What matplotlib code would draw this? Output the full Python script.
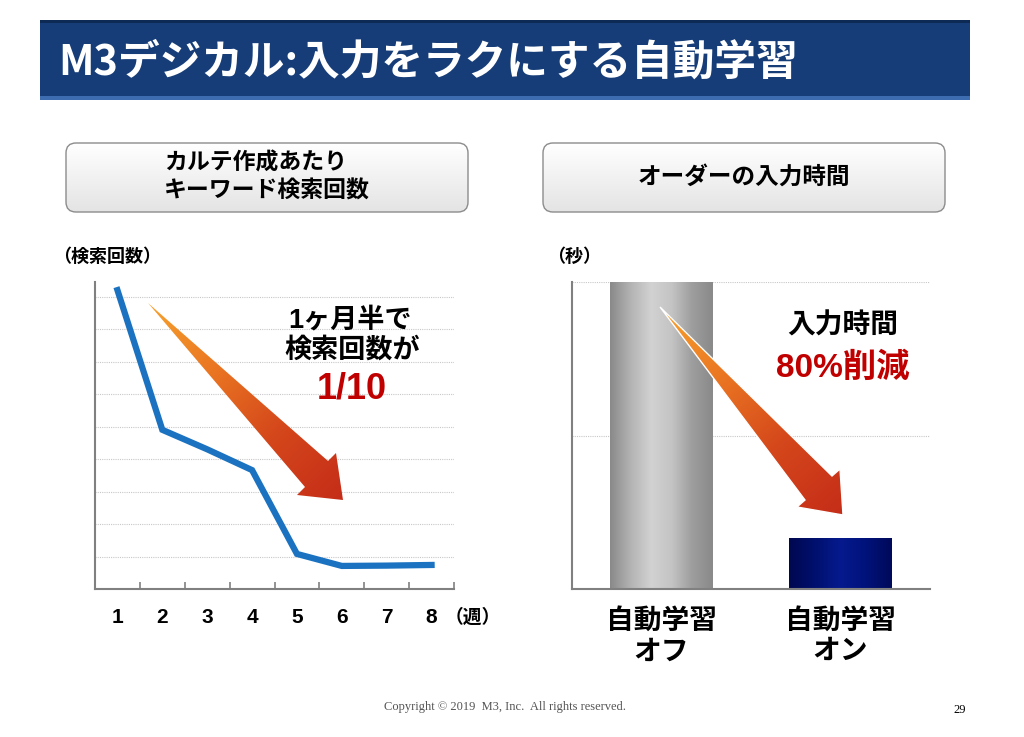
import numpy as np
import matplotlib
matplotlib.use("Agg")
import matplotlib.pyplot as plt
from matplotlib.colors import LinearSegmentedColormap
from matplotlib.patches import Polygon, FancyBboxPatch, Rectangle

plt.rcParams['font.family'] = ['Noto Sans CJK JP', 'DejaVu Sans']
ARIAL_JP = ['Liberation Sans', 'Noto Sans CJK JP']

# data
weeks = ['1', '2', '3', '4', '5', '6', '7', '8']
searches = [9.2, 4.9, 4.3, 3.66, 1.08, 0.71, 0.72, 0.74]
bar_labels = ['自動学習\nオフ', '自動学習\nオン']
bar_values = [2.0, 0.33]

W, H = 1024, 737
fig = plt.figure(figsize=(W / 100, H / 100), dpi=100)
fig.patch.set_facecolor('white')


def px_axes(x0, y0, x1, y1, z=1):
    return fig.add_axes([x0 / W, 1 - y1 / H, (x1 - x0) / W, (y1 - y0) / H], zorder=z)


def pixel_layer(z):
    a = fig.add_axes([0, 0, 1, 1], zorder=z)
    a.set_xlim(0, W)
    a.set_ylim(H, 0)
    a.axis('off')
    a.patch.set_alpha(0)
    return a


bg = pixel_layer(0)
top = pixel_layer(5)

# title bar
bg.add_patch(Rectangle((40, 20), 930, 80, color='#173d78', lw=0))
bg.add_patch(Rectangle((40, 20), 930, 3, color='#0d2a55', lw=0))
bg.add_patch(Rectangle((40, 96), 930, 4, color='#3d6db0', lw=0))
bg.text(58, 63, 'M3デジカル:入力をラクにする自動学習', color='white', fontsize=30,
        fontweight='bold', va='center', ha='left')

# header boxes with soft vertical gradient
grad_box = LinearSegmentedColormap.from_list('box', ['#ffffff', '#e4e4e4'])
for x0, txt, fs in [(66, 'カルテ作成あたり\nキーワード検索回数', 16.5), (543, 'オーダーの入力時間', 17)]:
    box = FancyBboxPatch((x0, 143), 402, 69, boxstyle='round,pad=0,rounding_size=10',
                         fc='none', ec='#8c8c8c', lw=1.0, zorder=3)
    bg.add_patch(box)
    img = bg.imshow(np.linspace(0, 1, 50).reshape(-1, 1), cmap=grad_box, aspect='auto',
                    extent=[x0, x0 + 402, 143, 212], origin='lower', zorder=2)
    img.set_clip_path(box)
    bg.text(x0 + 201, 177, txt, ha='center', va='center', fontsize=fs,
            fontweight='bold', linespacing=1.3, multialignment='left', zorder=4)
bg.set_xlim(0, W)
bg.set_ylim(H, 0)

# left chart: keyword searches per week
ax1 = px_axes(95, 282, 454, 589)
ax1.patch.set_alpha(0)
x = np.arange(1, len(weeks) + 1)
ax1.plot(x, searches, color='#1b72c0', lw=4.5, solid_joinstyle='miter', zorder=3)
ax1.set_xlim(0.5, 8.5)
ax1.set_ylim(0, 9.45)
for g in range(1, 10):
    ax1.axhline(g, color='#c8c8c8', lw=0.8, ls=(0, (1, 1)), zorder=1)
ax1.set_xticks(np.arange(1.5, 9.0, 1.0))
ax1.set_xticklabels([])
ax1.tick_params(axis='x', direction='in', length=5, width=1.2, color='#808080')
ax1.set_yticks([])
for s in ['top', 'right']:
    ax1.spines[s].set_visible(False)
for s in ['left', 'bottom']:
    ax1.spines[s].set_color('#808080')
    ax1.spines[s].set_linewidth(1.5)
for i, w in enumerate(weeks):
    ax1.text(x[i], -0.88, w, ha='center', va='center', fontsize=15, fontweight='bold',
             family=ARIAL_JP)
ax1.text(8.28, -0.88, '（週）', ha='left', va='center', fontsize=13.5, fontweight='bold')
bg.text(53, 256, '（検索回数）', ha='left', va='center', fontsize=13, fontweight='bold')

# right chart: order input time
ax2 = px_axes(572, 282, 930, 589)
ax2.patch.set_alpha(0)
ax2.set_xlim(-0.5, 1.5)
ax2.set_ylim(0, 2.0)
for g in [1, 2]:
    ax2.axhline(g, color='#c8c8c8', lw=0.8, ls=(0, (1, 1)), zorder=1)
gray_cm = LinearSegmentedColormap.from_list(
    'gr', ['#8a8a8a', '#b4b4b4', '#d2d2d2', '#c4c4c4', '#9e9e9e', '#8a8a8a'])
navy_cm = LinearSegmentedColormap.from_list(
    'nv', ['#000850', '#00106e', '#061a8e', '#00127a', '#000a5a'])
bw = 0.575
for i, (v, cm) in enumerate(zip(bar_values, [gray_cm, navy_cm])):
    ax2.imshow(np.linspace(0, 1, 100).reshape(1, -1), cmap=cm, aspect='auto',
               extent=[i - bw / 2, i + bw / 2, 0, v], origin='lower', zorder=2)
ax2.set_xlim(-0.5, 1.5)
ax2.set_ylim(0, 2.0)
ax2.set_xticks([])
ax2.set_yticks([])
for s in ['top', 'right']:
    ax2.spines[s].set_visible(False)
for s in ['left', 'bottom']:
    ax2.spines[s].set_color('#808080')
    ax2.spines[s].set_linewidth(1.5)
    ax2.spines[s].set_zorder(3)
for i, lab in enumerate(bar_labels):
    ax2.text(i, -0.115, lab, ha='center', va='top', fontsize=20, fontweight='bold',
             linespacing=1.12)
bg.text(547, 256, '（秒）', ha='left', va='center', fontsize=13, fontweight='bold')

# gradient arrows
arrow_cm = LinearSegmentedColormap.from_list(
    'ar', ['#f7a22e', '#ea7622', '#d4461b', '#c52d18'])


def grad_arrow(ax, pts, edge):
    pts = np.array(pts, dtype=float)
    poly = Polygon(pts, closed=True, fc='none', ec=edge, lw=1.0, zorder=6)
    ax.add_patch(poly)
    x0, y0 = pts.min(axis=0)
    x1, y1 = pts.max(axis=0)
    tail, tip = pts[0], pts[3]
    d = (tip - tail) / np.sum((tip - tail) ** 2)
    gx, gy = np.meshgrid(np.linspace(x0, x1, 200), np.linspace(y0, y1, 200))
    z = np.clip((gx - tail[0]) * d[0] + (gy - tail[1]) * d[1], 0, 1)
    im = ax.imshow(z, cmap=arrow_cm, extent=[x0, x1, y0, y1], origin='lower',
                   aspect='auto', zorder=5, vmin=0, vmax=1)
    im.set_clip_path(poly)


grad_arrow(top, [(148, 303), (328, 461), (336, 453), (343, 500), (297, 495), (305, 487)], 'none')
grad_arrow(top, [(660, 307), (832, 476), (840, 469), (843, 515), (797, 507), (805, 500)], 'white')
top.set_xlim(0, W)
top.set_ylim(H, 0)

# callouts
top.text(350, 320, '1ヶ月半で', ha='center', va='center', fontsize=19.5, fontweight='bold',
         family=ARIAL_JP)
top.text(352, 350, '検索回数が', ha='center', va='center', fontsize=19.5, fontweight='bold')
top.text(352, 389, '1/10', ha='center', va='center', fontsize=26, fontweight='bold',
         color='#c00000', family=ARIAL_JP)
top.text(843, 326, '入力時間', ha='center', va='center', fontsize=20, fontweight='bold')
top.text(843, 368, '80%削減', ha='center', va='center', fontsize=24, fontweight='bold',
         color='#c00000', family=ARIAL_JP)

# footer
bg.text(505, 707, 'Copyright © 2019  M3, Inc.  All rights reserved.', ha='center',
        va='center', fontsize=9, family='Liberation Serif', color='#555555')
bg.text(960, 710, '29', ha='center', va='center', fontsize=9, family='Liberation Serif')

fig.savefig('out.png', dpi=100)
